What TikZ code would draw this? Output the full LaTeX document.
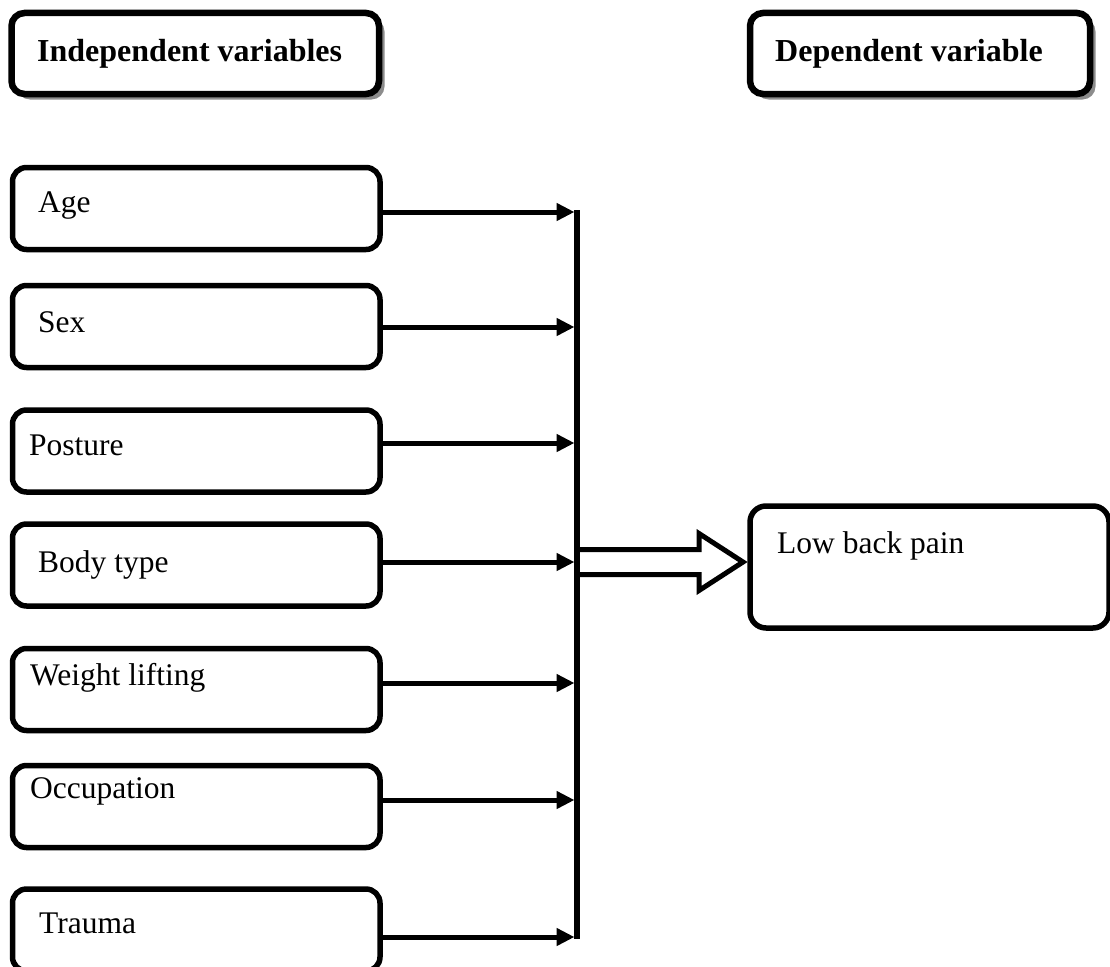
\documentclass[tikz,border=0pt]{standalone}
\usepackage{fontspec}
\setmainfont{Liberation Serif}
\usetikzlibrary{arrows.meta,shadows}
\begin{document}
\begin{tikzpicture}[x=1pt,y=1pt,
  hdr/.style={draw, line width=6.5pt, rounded corners=13pt, fill=white, minimum height=81pt, inner sep=0pt,
     drop shadow={shadow xshift=5.5pt, shadow yshift=-5.5pt, fill=black!45, opacity=1}},
  varbox/.style={draw, line width=5.5pt, rounded corners=14pt, minimum width=367.5pt, minimum height=82pt, inner sep=0pt},
  lbl/.style={anchor=base west, inner sep=0pt, font=\fontsize{31.5}{36}\selectfont},
  hlbl/.style={anchor=base west, inner sep=0pt, font=\fontsize{32}{38}\selectfont\bfseries},
  arr/.style={line width=5pt, shorten >=2.5pt, -{Triangle[length=18pt,width=17pt]}},
  busline/.style={line width=5.5pt},
  hollow/.style={line width=5pt, fill=white, miter limit=10},
]
\useasboundingbox (0,0) rectangle (1110,-966);

% headers
\node[hdr, minimum width=367.5pt] (indep) at (195.25,-53.5) {};
\node[hlbl] (indeptxt) at (37,-62) {Independent variables};
\node[hdr, minimum width=340pt] (dep) at (920,-53.5) {};
\node[hlbl] (deptxt) at (775,-62) {Dependent variable};

% variable boxes
\node[varbox] (age) at (196.25,-208.5) {};
\node[varbox] (sex) at (196.25,-326.5) {};
\node[varbox] (pos) at (196.25,-451) {};
\node[varbox] (body) at (196.25,-565) {};
\node[varbox] (wt) at (196.25,-689.5) {};
\node[varbox] (occ) at (196.25,-806.5) {};
\node[varbox] (tra) at (196.25,-930) {};

\node[lbl] (agetxt) at (38,-212) {Age};
\node[lbl] (sextxt) at (38,-332) {Sex};
\node[lbl] (postxt) at (29,-455) {Posture};
\node[lbl] (bodytxt) at (38,-572) {Body type};
\node[lbl] (wttxt) at (30,-685) {Weight lifting};
\node[lbl] (occtxt) at (30,-798) {Occupation};
\node[lbl] (tratxt) at (39,-933) {Trauma};

% outcome box
\node[varbox, minimum width=359pt, minimum height=122pt, rounded corners=16pt] (lbp) at (929.5,-567) {};
\node[lbl] (lbptxt) at (777,-553) {Low back pain};

% bus coordinates
\coordinate (a1) at (577,-212);
\coordinate (a2) at (577,-327);
\coordinate (a3) at (577,-443);
\coordinate (a4) at (577,-562);
\coordinate (a5) at (577,-683);
\coordinate (a6) at (577,-800);
\coordinate (a7) at (577,-937);
\coordinate (tip) at (743,-562);

% hollow arrow
\draw[hollow] (a4) ++(0,12.5) -- ++(122,0) -- ++(0,16) -- (tip) -- ++(-44,-28.5) -- ++(0,16) -- ++(-122,0);

% bus
\draw[busline] ([yshift=2pt]a1) -- ([yshift=-2pt]a7);

% arrows
\draw[arr] (age.east |- a1) -- (a1);
\draw[arr] (sex.east |- a2) -- (a2);
\draw[arr] (pos.east |- a3) -- (a3);
\draw[arr] (body.east |- a4) -- (a4);
\draw[arr] (wt.east |- a5) -- (a5);
\draw[arr] (occ.east |- a6) -- (a6);
\draw[arr] (tra.east |- a7) -- (a7);
\end{tikzpicture}
\end{document}
